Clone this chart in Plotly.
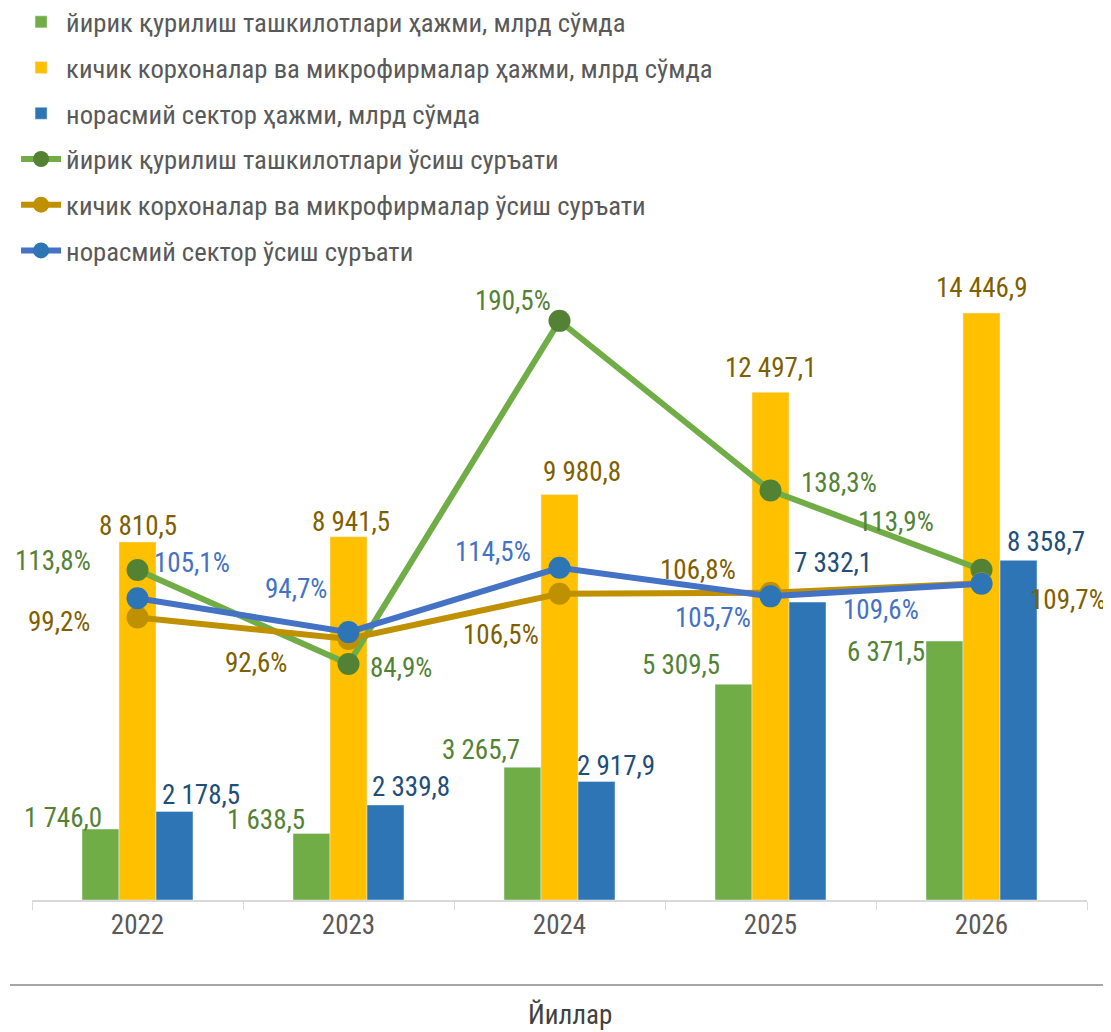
import plotly.graph_objects as go

years = ["2022", "2023", "2024", "2025", "2026"]
large_vol = [1746.0, 1638.5, 3265.7, 5309.5, 6371.5]
small_vol = [8810.5, 8941.5, 9980.8, 12497.1, 14446.9]
informal_vol = [2178.5, 2339.8, 2917.9, 7332.1, 8358.7]
large_growth = [113.8, 84.9, 190.5, 138.3, 113.9]
small_growth = [99.2, 92.6, 106.5, 106.8, 109.7]
informal_growth = [105.1, 94.7, 114.5, 105.7, 109.6]

names = [
    "йирик қурилиш ташкилотлари ҳажми, млрд сўмда",
    "кичик корхоналар ва микрофирмалар ҳажми, млрд сўмда",
    "норасмий сектор ҳажми, млрд сўмда",
    "йирик қурилиш ташкилотлари ўсиш суръати",
    "кичик корхоналар ва микрофирмалар ўсиш суръати",
    "норасмий сектор ўсиш суръати",
]
x_title = "Йиллар"

# label offsets (pixels): (dx, dy) relative to category centre / value
bar_off = {
    "large": [(-75, 11), (-83, 13), (-79, 17), (-90, 19), (-96, -11)],
    "small": [(0, 16), (2, 15), (22, 22), (0, 24), (0, 25)],
    "inf": [(63, 16), (62, 18), (56, 15), (62, 39), (64, 18)],
}
line_off = {
    "large": [(-85, 9), (52, -4), (-47, 20), (68, 7), (-86, 48)],
    "small": [(-79, -5), (-93, -24), (-59, -41), (-73, 23), (86, -17)],
    "inf": [(54, 35), (-53, 43), (-67, 16), (-58, -22), (-101, -26)],
}

FONT = "Roboto Condensed, Roboto, sans-serif"
GREEN, YELLOW, BLUE = "#70AD47", "#FFC000", "#2E75B6"
GOLD, LBLUE, DGREEN = "#BF9000", "#4472C4", "#548235"
LABEL_SIZE = 27


def fmt_num(v):
    s = f"{v:,.1f}"
    return s.replace(",", " ").replace(".", ",")


def fmt_pct(v):
    return f"{v:.1f}".replace(".", ",") + "%"


fig = go.Figure()
fig.add_trace(go.Bar(x=years, y=large_vol, name=names[0], marker_color=GREEN,
                     legendgroup="a"))
fig.add_trace(go.Bar(x=years, y=small_vol, name=names[1], marker_color=YELLOW,
                     legendgroup="b"))
fig.add_trace(go.Bar(x=years, y=informal_vol, name=names[2], marker_color=BLUE,
                     legendgroup="c"))
fig.add_trace(go.Scatter(x=years, y=large_growth, name=names[3], yaxis="y2",
                         mode="lines+markers", line=dict(color=GREEN, width=6),
                         marker=dict(color=DGREEN, size=22), legendgroup="d"))
fig.add_trace(go.Scatter(x=years, y=small_growth, name=names[4], yaxis="y2",
                         mode="lines+markers", line=dict(color=GOLD, width=6),
                         marker=dict(color=GOLD, size=22), legendgroup="e"))
fig.add_trace(go.Scatter(x=years, y=informal_growth, name=names[5], yaxis="y2",
                         mode="lines+markers", line=dict(color=LBLUE, width=6),
                         marker=dict(color=BLUE, size=22), legendgroup="f"))

ann = []
for vals, key, col in [(large_vol, "large", DGREEN), (small_vol, "small", "#7F6000"),
                       (informal_vol, "inf", "#1F4E79")]:
    for i, v in enumerate(vals):
        dx, dy = bar_off[key][i]
        ann.append(dict(x=i, y=v, xref="x", yref="y", text=fmt_num(v),
                        showarrow=False, xanchor="center", yanchor="middle",
                        xshift=dx, yshift=dy,
                        font=dict(size=LABEL_SIZE, color=col, family=FONT)))
for vals, key, col in [(large_growth, "large", DGREEN), (small_growth, "small", "#7F6000"),
                       (informal_growth, "inf", LBLUE)]:
    for i, v in enumerate(vals):
        dx, dy = line_off[key][i]
        ann.append(dict(x=i, y=v, xref="x", yref="y2", text=fmt_pct(v),
                        showarrow=False, xanchor="center", yanchor="middle",
                        xshift=dx, yshift=dy,
                        font=dict(size=LABEL_SIZE, color=col, family=FONT)))
ann.append(dict(x=0.51, y=-0.1885, xref="paper", yref="paper", text=x_title,
                showarrow=False, xanchor="center", yanchor="middle",
                font=dict(size=27, color="#404040", family=FONT)))

fig.update_layout(
    width=1103, height=1024,
    margin=dict(l=24, r=24, t=282, b=132, autoexpand=False),
    paper_bgcolor="white", plot_bgcolor="white",
    barmode="group", bargap=0.474, bargroupgap=0,
    font=dict(family=FONT, color="#595959"),
    showlegend=True,
    legend=dict(x=-0.0151, y=1.4787, xref="paper", yref="paper",
                xanchor="left", yanchor="top", orientation="v",
                font=dict(size=26.7, color="#595959", family=FONT),
                tracegroupgap=8, itemwidth=40, bgcolor="rgba(0,0,0,0)"),
    xaxis=dict(type="category", showline=True, linecolor="#D9D9D9", linewidth=1.5,
               ticks="outside", tickson="boundaries", ticklen=8, tickcolor="#D9D9D9",
               tickfont=dict(size=27, color="#595959", family=FONT), showgrid=False,
               range=[-0.5, 4.5]),
    yaxis=dict(range=[0, 15013], visible=False, showgrid=False, fixedrange=True),
    yaxis2=dict(range=[12.24, 200], overlaying="y", side="right", visible=False,
                showgrid=False),
    annotations=ann,
    shapes=[dict(type="line", xref="paper", yref="paper", x0=-0.0209, x1=1.03,
                 y0=-0.1393, y1=-0.1393, line=dict(color="#A6A6A6", width=2))],
)

fig.write_html("out.html")
